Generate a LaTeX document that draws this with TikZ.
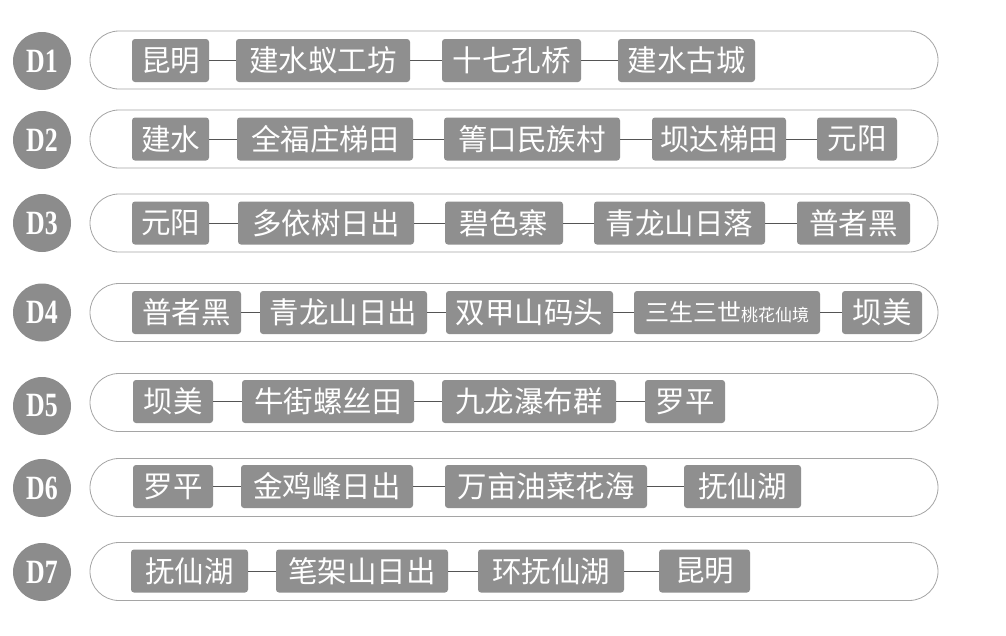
\documentclass[tikz,border=0pt]{standalone}
\usepackage{fontspec}
\usepackage{graphicx}
\newfontfamily\cjk{Noto Sans CJK SC}
\newfontfamily\dserif{Liberation Serif}
\definecolor{boxgray}{RGB}{143,143,143}
\definecolor{circgray}{RGB}{140,140,140}
\definecolor{pillline}{RGB}{165,165,165}
\definecolor{linkline}{RGB}{85,85,85}
\newcommand\stopbox[5]{\node[stopbox, minimum width={#3-#2}] (#1) at ({(#2+#3)/2},#4) {#5};}
\newcommand\dayrow[4]{%
  \node[pillbox] (p#1) at (514,#2) {};
  \node[daycirc] (c#1) at (42,#3) {\scalebox{0.76}[1]{#4}};}
\begin{document}
\begin{tikzpicture}[x=1pt,y=-1pt,
  stopbox/.style={fill=boxgray, text=white, rounded corners=3pt, inner sep=0pt,
    minimum height=43pt, font=\cjk\fontsize{29.5}{29.5}\selectfont},
  daycirc/.style={circle, fill=circgray, minimum size=58pt, inner sep=0pt,
    text=white, font=\dserif\bfseries\fontsize{34}{34}\selectfont},
  pillbox/.style={draw=pillline, line width=0.8pt, rounded corners=29pt,
    minimum width=848pt, minimum height=58pt, inner sep=0pt},
  link/.style={draw=linkline, line width=0.9pt}]
\useasboundingbox (0,0) rectangle (1006,635);
\fill[white] (0,0) rectangle (1006,635);

% D1
\dayrow{1}{60}{61}{D1}
\stopbox{a1}{132}{209}{60.5}{昆明}
\stopbox{a2}{236}{410}{60.5}{建水蚁工坊}
\stopbox{a3}{442}{581}{60.5}{十七孔桥}
\stopbox{a4}{618}{755}{60.5}{建水古城}
\draw[link] (a1.east) -- (a2.west);
\draw[link] (a2.east) -- (a3.west);
\draw[link] (a3.east) -- (a4.west);

% D2
\dayrow{2}{139}{140}{D2}
\stopbox{b1}{132}{209}{139}{建水}
\stopbox{b2}{237}{413}{139}{全福庄梯田}
\stopbox{b3}{444}{620}{139}{箐口民族村}
\stopbox{b4}{652}{786}{139}{坝达梯田}
\stopbox{b5}{817}{897}{139}{元阳}
\draw[link] (b1.east) -- (b2.west);
\draw[link] (b2.east) -- (b3.west);
\draw[link] (b3.east) -- (b4.west);
\draw[link] (b4.east) -- (b5.west);

% D3
\dayrow{3}{223}{223}{D3}
\stopbox{e1}{132}{209}{223}{元阳}
\stopbox{e2}{238}{414}{223}{多依树日出}
\stopbox{e3}{445}{563}{223}{碧色寨}
\stopbox{e4}{594}{765}{223}{青龙山日落}
\stopbox{e5}{797}{910}{223}{普者黑}
\draw[link] (e1.east) -- (e2.west);
\draw[link] (e2.east) -- (e3.west);
\draw[link] (e3.east) -- (e4.west);
\draw[link] (e4.east) -- (e5.west);

% D4
\dayrow{4}{312.5}{312.5}{D4}
\stopbox{f1}{132}{241}{312.5}{普者黑}
\stopbox{f2}{260}{427}{312.5}{青龙山日出}
\stopbox{f3}{446}{613}{312.5}{双甲山码头}
\stopbox{f4}{634}{820}{312.5}{{\fontsize{24}{24}\selectfont 三生三世}{\fontsize{17}{17}\selectfont 桃花仙境}}
\stopbox{f5}{842}{922}{312.5}{坝美}
\draw[link] (f1.east) -- (f2.west);
\draw[link] (f2.east) -- (f3.west);
\draw[link] (f3.east) -- (f4.west);
\draw[link] (f4.east) -- (f5.west);

% D5
\dayrow{5}{402.5}{406}{D5}
\stopbox{g1}{133}{213}{401.5}{坝美}
\stopbox{g2}{242}{414}{401.5}{牛街螺丝田}
\stopbox{g3}{442}{616}{401.5}{九龙瀑布群}
\stopbox{g4}{645}{725}{401.5}{罗平}
\draw[link] (g1.east) -- (g2.west);
\draw[link] (g2.east) -- (g3.west);
\draw[link] (g3.east) -- (g4.west);

% D6
\dayrow{6}{487.5}{488}{D6}
\stopbox{h1}{133}{213}{486.5}{罗平}
\stopbox{h2}{241}{413}{486.5}{金鸡峰日出}
\stopbox{h3}{445}{647}{486.5}{万亩油菜花海}
\stopbox{h4}{684}{801}{486.5}{抚仙湖}
\draw[link] (h1.east) -- (h2.west);
\draw[link] (h2.east) -- (h3.west);
\draw[link] (h3.east) -- (h4.west);

% D7
\dayrow{7}{571.5}{572}{D7}
\stopbox{k1}{131}{248}{571}{抚仙湖}
\stopbox{k2}{276}{448}{571}{笔架山日出}
\stopbox{k3}{478}{624}{571}{环抚仙湖}
\stopbox{k4}{659}{750}{571}{昆明}
\draw[link] (k1.east) -- (k2.west);
\draw[link] (k2.east) -- (k3.west);
\draw[link] (k3.east) -- (k4.west);
\end{tikzpicture}
\end{document}
